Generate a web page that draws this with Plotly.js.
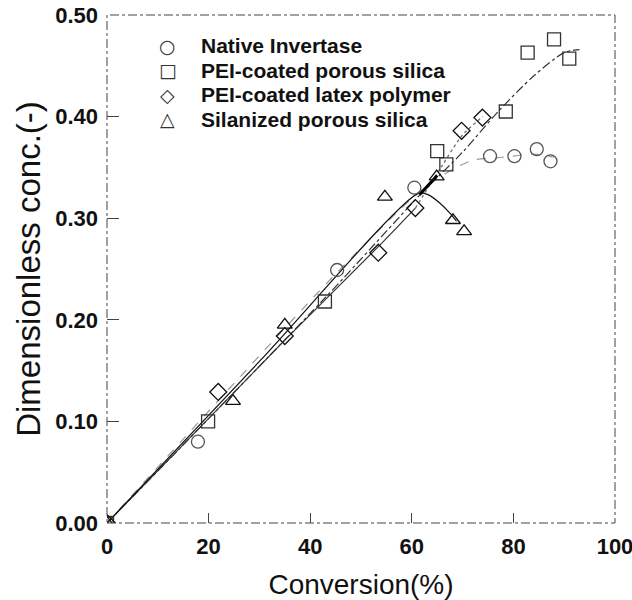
<!DOCTYPE html>
<html>
<head>
<meta charset="utf-8">
<script src="https://cdn.plot.ly/plotly-3.0.1.min.js"></script>
<style>html,body{margin:0;padding:0;background:#fff;}#chart{width:632px;height:600px;}</style>
</head>
<body>
<div id="chart"></div>
<script>
// ---- data ----
const seriesNames = ["Native Invertase", "PEI-coated porous silica", "PEI-coated latex polymer", "Silanized porous silica"];

const nativeX = [0, 17.9, 45.3, 60.5, 75.4, 80.2, 84.6, 87.3];
const nativeY = [0, 0.080, 0.249, 0.330, 0.361, 0.361, 0.368, 0.356];

const silicaX = [0, 19.9, 42.9, 65.0, 66.8, 78.5, 82.8, 88.0, 91.0];
const silicaY = [0, 0.100, 0.218, 0.366, 0.353, 0.405, 0.463, 0.476, 0.457];

const latexX = [0, 21.9, 35.0, 53.4, 60.7, 69.8, 73.9];
const latexY = [0, 0.129, 0.184, 0.266, 0.310, 0.386, 0.399];

const silanX = [0, 24.8, 35.0, 54.7, 64.9, 68.1, 70.3];
const silanY = [0, 0.120, 0.195, 0.321, 0.341, 0.298, 0.287];

// fitted curves
const fitNativeX = [0, 45, 61.3, 67, 72, 78, 84, 88];
const fitNativeY = [0, 0.245, 0.325, 0.345, 0.357, 0.360, 0.363, 0.360];

const fitSilicaX = [0, 43, 62, 70, 77, 84, 90, 93];
const fitSilicaY = [0, 0.222, 0.325, 0.365, 0.405, 0.440, 0.463, 0.466];

const fitLatexX = [0, 35, 53.4, 60.7];
const fitLatexY = [0, 0.180, 0.272, 0.310];

const fitLatexUpperX = [60.7, 66, 70, 74];
const fitLatexUpperY = [0.310, 0.352, 0.382, 0.400];

const fitSilanX = [0, 30, 61.3, 63.3, 65.5, 67.5, 68.8];
const fitSilanY = [0, 0.159, 0.3245, 0.323, 0.315, 0.305, 0.297];

const fitSilanBoldX = [61.5, 65.0];
const fitSilanBoldY = [0.323, 0.342];

const xTicks = [0, 20, 40, 60, 80, 100];
const xTickText = ["0", "20", "40", "60", "80", "100"];
const yTicks = [0, 0.1, 0.2, 0.3, 0.4, 0.5];
const yTickText = ["0.00", "0.10", "0.20", "0.30", "0.40", "0.50"];

const legendSymbols = ["○", "□", "◇", "△"];

// ---- traces ----
const lineTrace = (x, y, color, dash, width) => ({
  x, y, type: "scatter", mode: "lines", showlegend: false, hoverinfo: "skip",
  line: {color, dash, width, shape: "spline", smoothing: 0.8}
});

const markerTrace = (name, x, y, symbol, color) => ({
  name, x, y, type: "scatter", mode: "markers", showlegend: false,
  marker: {symbol, size: 13, color: color, line: {color, width: 1.3}}
});

const data = [
  lineTrace(fitNativeX, fitNativeY, "#999", "dash", 1.2),
  lineTrace(fitSilicaX, fitSilicaY, "#333", "dashdot", 1.2),
  lineTrace(fitLatexX, fitLatexY, "#333", "solid", 1.2),
  lineTrace(fitLatexUpperX, fitLatexUpperY, "#777", "dot", 1.4),
  lineTrace(fitSilanX, fitSilanY, "#111", "solid", 1.2),
  lineTrace(fitSilanBoldX, fitSilanBoldY, "#000", "solid", 3),
  markerTrace(seriesNames[0], nativeX, nativeY, "circle-open", "#555"),
  markerTrace(seriesNames[1], silicaX, silicaY, "square-open", "#333"),
  markerTrace(seriesNames[2], latexX, latexY, "diamond-open", "#111"),
  markerTrace(seriesNames[3], silanX, silanY, "triangle-up-open", "#111")
];

const baseFont = "Liberation Sans, Arial, sans-serif";

const annotations = [];
seriesNames.forEach((n, i) => {
  annotations.push({
    xref: "paper", yref: "paper", x: 0.12, y: 0.939 - i * 0.048,
    xanchor: "center", yanchor: "middle", showarrow: false,
    text: legendSymbols[i], font: {family: "DejaVu Sans, sans-serif", size: 19, color: "#333"}
  });
  annotations.push({
    xref: "paper", yref: "paper", x: 0.181, y: 0.939 - i * 0.048,
    xanchor: "left", yanchor: "middle", showarrow: false,
    text: n, font: {family: baseFont, size: 21, weight: "bold", color: "#111"}
  });
});

const layout = {
  width: 632, height: 600,
  margin: {l: 107, r: 17, t: 15, b: 77},
  paper_bgcolor: "#fff", plot_bgcolor: "#fff",
  showlegend: false,
  font: {family: baseFont, color: "#111"},
  xaxis: {
    range: [0, 100], tickvals: xTicks, ticktext: xTickText,
    ticks: "inside", ticklen: 10, tickwidth: 1, tickcolor: "#444",
    showgrid: false, zeroline: false, showline: false,
    ticklabelstandoff: 8, ticklabeloverflow: "allow",
    tickfont: {size: 22, family: baseFont, weight: "bold", color: "#111"},
    title: {text: "Conversion(%)", font: {size: 28, family: baseFont, color: "#111"}, standoff: 22}
  },
  yaxis: {
    range: [0, 0.5], tickvals: yTicks, ticktext: yTickText,
    ticks: "inside", ticklen: 12, tickwidth: 1, tickcolor: "#444",
    showgrid: false, zeroline: false, showline: false,
    ticklabelstandoff: 8, ticklabeloverflow: "allow",
    tickfont: {size: 22, family: baseFont, weight: "bold", color: "#111"},
    title: {text: "Dimensionless conc.(-)", font: {size: 33, family: "Liberation Sans Narrow, Arial Narrow, " + baseFont, color: "#111"}, standoff: 4}
  },
  shapes: [{
    type: "rect", xref: "paper", yref: "paper", x0: 0, y0: 0, x1: 1, y1: 1,
    line: {color: "#444", width: 1, dash: "dashdot"}
  }],
  annotations
};

Plotly.newPlot("chart", data, layout, {displayModeBar: false, staticPlot: true});
</script>
</body>
</html>
